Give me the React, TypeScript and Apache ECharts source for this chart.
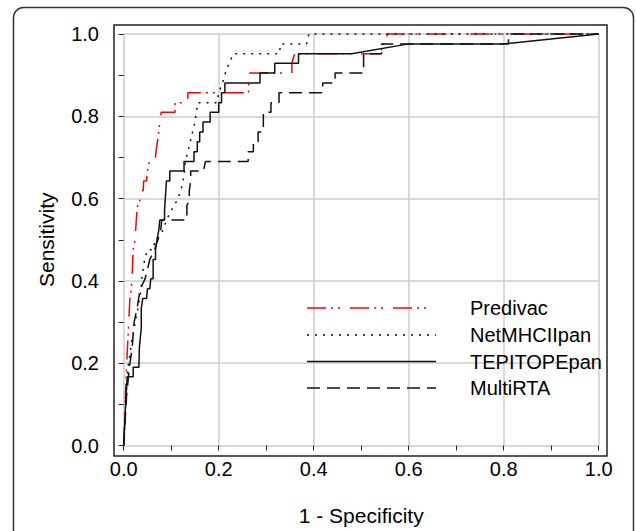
import React, { useEffect, useRef } from "react";
import * as echarts from "echarts";

const FONT = "'Liberation Sans', Arial, Helvetica, sans-serif";

const seriesNames = ["Predivac", "NetMHCIIpan", "TEPITOPEpan", "MultiRTA"];

const predivac: number[][] = [
  [0, 0], [0.003, 0.1], [0.006, 0.19], [0.008, 0.24], [0.01, 0.286], [0.012, 0.333],
  [0.013, 0.357], [0.016, 0.381], [0.018, 0.42], [0.02, 0.476], [0.024, 0.5],
  [0.026, 0.54], [0.028, 0.571], [0.031, 0.595], [0.034, 0.595], [0.036, 0.619],
  [0.041, 0.619], [0.042, 0.643], [0.048, 0.643], [0.05, 0.667], [0.054, 0.69],
  [0.066, 0.69], [0.068, 0.714], [0.071, 0.738], [0.074, 0.762], [0.076, 0.786],
  [0.079, 0.81], [0.108, 0.81], [0.108, 0.833], [0.135, 0.833], [0.135, 0.857],
  [0.263, 0.857], [0.263, 0.881], [0.265, 0.905], [0.354, 0.905], [0.354, 0.929],
  [0.36, 0.952], [0.543, 0.952], [0.543, 0.976], [0.554, 0.976], [0.554, 1], [1, 1],
];

const netmhc: number[][] = [
  [0, 0], [0.003, 0.07], [0.006, 0.14], [0.009, 0.19], [0.012, 0.214], [0.015, 0.238],
  [0.018, 0.262], [0.022, 0.286], [0.026, 0.31], [0.03, 0.333], [0.033, 0.357],
  [0.037, 0.381], [0.038, 0.405], [0.041, 0.429], [0.044, 0.452], [0.05, 0.476],
  [0.062, 0.476], [0.066, 0.5], [0.076, 0.51], [0.083, 0.524], [0.09, 0.548],
  [0.1, 0.571], [0.112, 0.595], [0.12, 0.619], [0.125, 0.643], [0.128, 0.667],
  [0.13, 0.69], [0.135, 0.714], [0.14, 0.738], [0.145, 0.762], [0.15, 0.786],
  [0.153, 0.81], [0.156, 0.833], [0.196, 0.833], [0.2, 0.857], [0.208, 0.881],
  [0.214, 0.905], [0.222, 0.929], [0.231, 0.952], [0.328, 0.952], [0.33, 0.976],
  [0.385, 0.976], [0.39, 1], [1, 1],
];

const tepitope: number[][] = [
  [0, 0], [0.002, 0.05], [0.004, 0.1], [0.006, 0.143], [0.008, 0.167], [0.02, 0.167],
  [0.02, 0.19], [0.032, 0.19], [0.033, 0.238], [0.035, 0.262], [0.037, 0.286],
  [0.037, 0.333], [0.04, 0.357], [0.048, 0.357], [0.05, 0.381], [0.055, 0.381],
  [0.057, 0.405], [0.062, 0.405], [0.062, 0.452], [0.067, 0.452], [0.067, 0.476],
  [0.07, 0.5], [0.074, 0.524], [0.076, 0.548], [0.086, 0.548], [0.086, 0.571],
  [0.09, 0.643], [0.097, 0.643], [0.097, 0.667], [0.127, 0.667], [0.127, 0.69],
  [0.148, 0.69], [0.148, 0.714], [0.155, 0.714], [0.155, 0.738], [0.16, 0.738],
  [0.16, 0.762], [0.167, 0.762], [0.167, 0.786], [0.182, 0.786], [0.182, 0.81],
  [0.2, 0.81], [0.2, 0.833], [0.206, 0.833], [0.206, 0.857], [0.213, 0.857],
  [0.213, 0.881], [0.287, 0.881], [0.287, 0.905], [0.318, 0.905], [0.318, 0.929],
  [0.368, 0.929], [0.368, 0.952], [0.48, 0.952], [0.6, 0.976], [0.8, 0.976], [1, 1],
];

const multirta: number[][] = [
  [0, 0], [0.006, 0.12], [0.012, 0.19], [0.018, 0.24], [0.022, 0.3], [0.028, 0.333],
  [0.035, 0.381], [0.045, 0.405], [0.055, 0.452], [0.065, 0.476], [0.072, 0.5],
  [0.078, 0.524], [0.08, 0.548], [0.133, 0.548], [0.133, 0.583], [0.138, 0.595],
  [0.138, 0.619], [0.141, 0.643], [0.141, 0.667], [0.168, 0.667], [0.172, 0.69],
  [0.262, 0.69], [0.262, 0.714], [0.273, 0.714], [0.273, 0.738], [0.283, 0.738],
  [0.283, 0.762], [0.294, 0.762], [0.294, 0.81], [0.31, 0.81], [0.31, 0.833],
  [0.327, 0.833], [0.327, 0.857], [0.419, 0.857], [0.419, 0.881], [0.445, 0.881],
  [0.445, 0.905], [0.505, 0.905], [0.505, 0.952], [0.543, 0.952], [0.543, 0.976],
  [0.81, 0.976], [0.81, 1], [1, 1],
];

const seriesData = [predivac, netmhc, tepitope, multirta];
const seriesColors = ["#ff0000", "#111111", "#111111", "#111111"];
const seriesDash: (string | number[])[] = [[19, 5, 2, 5, 2, 10], [2, 6], "solid", [13, 7]];

export default function App() {
  const ref = useRef<HTMLDivElement>(null);
  useEffect(() => {
    if (!ref.current) return;
    const chart = echarts.init(ref.current, null, { renderer: "svg" });
    const legendY = [308, 335, 361.5, 388];
    const legendGraphics: any[] = [];
    seriesNames.forEach((n, i) => {
      legendGraphics.push({
        type: "line",
        shape: { x1: 307, y1: legendY[i], x2: 436, y2: legendY[i] },
        style: {
          stroke: seriesColors[i],
          lineWidth: 1.5,
          lineDash: Array.isArray(seriesDash[i]) ? seriesDash[i] : null,
        },
        z: 20,
      });
      legendGraphics.push({
        type: "text",
        x: 470,
        y: legendY[i],
        style: {
          text: n,
          fontSize: 20,
          fontFamily: FONT,
          fill: "#000",
          verticalAlign: "middle",
          align: "left",
        },
        z: 20,
      });
    });
    chart.setOption({
      animation: false,
      backgroundColor: "#ffffff",
      grid: { left: 123.7, right: 37.3, top: 34, bottom: 83.5, containLabel: false },
      xAxis: {
        type: "value",
        min: 0,
        max: 1,
        interval: 0.2,
        offset: 8.5,
        axisLine: { show: false },
        axisTick: { show: true, length: 5, lineStyle: { color: "#222", width: 1 } },
        minorTick: { show: true, splitNumber: 2, length: 5, lineStyle: { color: "#222", width: 1 } },
        splitLine: { show: true, lineStyle: { color: "#cccccc", width: 1.5 } },
        minorSplitLine: { show: false },
        axisLabel: {
          formatter: (v: number) => v.toFixed(1),
          fontSize: 20,
          fontFamily: FONT,
          color: "#000",
          margin: 5,
        },
        name: "1 - Specificity",
        nameLocation: "middle",
        nameGap: 51,
        nameTextStyle: { fontSize: 21, fontFamily: FONT, color: "#000" },
      },
      yAxis: {
        type: "value",
        min: 0,
        max: 1,
        interval: 0.2,
        offset: 9.7,
        axisLine: { show: false },
        axisTick: { show: true, length: 5, lineStyle: { color: "#222", width: 1 } },
        minorTick: { show: true, splitNumber: 2, length: 5, lineStyle: { color: "#222", width: 1 } },
        splitLine: { show: true, lineStyle: { color: "#cccccc", width: 1.5 } },
        minorSplitLine: { show: false },
        axisLabel: {
          formatter: (v: number) => v.toFixed(1),
          fontSize: 20,
          fontFamily: FONT,
          color: "#000",
          margin: 15,
        },
        name: "Sensitivity",
        nameLocation: "middle",
        nameGap: 57,
        nameRotate: 90,
        nameTextStyle: { fontSize: 21, fontFamily: FONT, color: "#000" },
      },
      series: seriesNames.map((n, i) => ({
        name: n,
        type: "line",
        data: seriesData[i],
        showSymbol: false,
        symbol: "none",
        clip: false,
        lineStyle: { color: seriesColors[i], width: 1.5, type: seriesDash[i] },
        z: 5 + i,
      })),
      graphic: [
        {
          type: "rect",
          shape: { x: 13.5, y: 7.5, width: 620, height: 620, r: 10 },
          style: { fill: "none", stroke: "#333", lineWidth: 1.5 },
          z: 30,
        },
        {
          type: "rect",
          shape: { x: 114, y: 25, width: 493, height: 431 },
          style: { fill: "none", stroke: "#222", lineWidth: 1.5 },
          z: 30,
        },
        ...legendGraphics,
      ],
    });
    return () => chart.dispose();
  }, []);
  return (
    <div
      ref={ref}
      style={{ position: "fixed", left: 0, top: 0, width: 636, height: 531, background: "#fff" }}
    />
  );
}
